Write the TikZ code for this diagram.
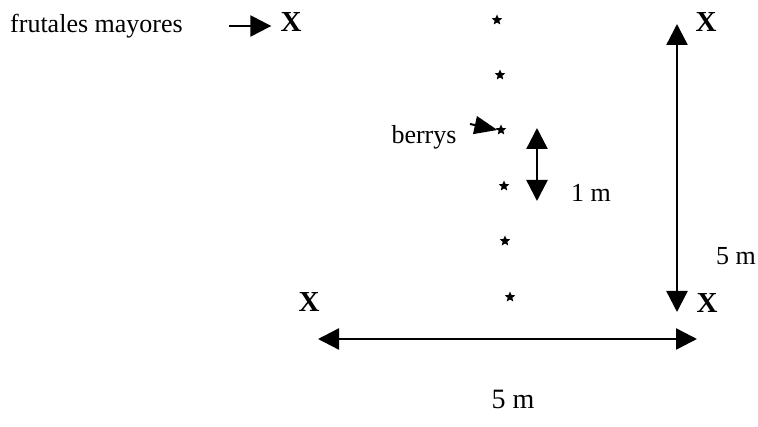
\documentclass[tikz,border=0pt]{standalone}
\usepackage{fontspec}
\setmainfont{Liberation Serif}
\usetikzlibrary{positioning, arrows.meta, shapes.geometric}

\begin{document}
\begin{tikzpicture}[
        x=1pt, y=-1pt,
        texto/.style={
            inner sep=0pt,
            font=\fontsize{26}{30}\selectfont
        },
        arbol/.style={
            inner sep=0pt,
            font=\bfseries\fontsize{29}{32}\selectfont
        },
        berry/.style={
            star,
            star points=5,
            star point ratio=2.2,
            fill=black,
            minimum size=11pt,
            inner sep=0pt
        },
        flecha/.style={
            -{Triangle[length=21pt, width=21pt]},
            line width=2.4pt
        },
        doble/.style={
            {Triangle[length=21pt, width=21pt]}-{Triangle[length=21pt, width=21pt]},
            line width=2.4pt
        }
    ]

    \useasboundingbox (0,0) rectangle (758,427);

    % frutales mayores
    \node[texto, anchor=west] (frutales) at (10,26) {frutales mayores};
    \node[arbol] (xtl) at (291,22) {X};
    \node[arbol] (xtr) at (706,22) {X};
    \node[arbol] (xbl) at (309,302) {X};
    \node[arbol] (xbr) at (707,303) {X};

    % berrys
    \node[berry] (b1) at (497,20) {};
    \node[berry] (b2) at (500,75) {};
    \node[berry] (b3) at (501,130) {};
    \node[berry] (b4) at (504,186) {};
    \node[berry] (b5) at (505,241) {};
    \node[berry] (b6) at (510,297) {};
    \node[texto] (berrys) at (424,137) {berrys};

    % medidas
    \coordinate (mtop) at (537,128);
    \coordinate (mbot) at (537,201);
    \node[texto] (unm) at (591,193) {1 m};
    \coordinate (vtop) at (677,24);
    \coordinate (vbot) at (677,312);
    \node[texto] (cincov) at (736,256) {5 m};
    \coordinate (hizq) at (318,339);
    \coordinate (hder) at (697,339);
    \node[texto, font=\fontsize{28}{32}\selectfont] (cincoh) at (513,399) {5 m};
    \coordinate (bflecha) at (470,124);

    \draw[flecha, shorten <=46pt, shorten >=9pt] (frutales.east) -- (frutales.east -| xtl.west);
    \draw[-{Triangle[length=23pt, width=18pt]}, line width=2pt] (bflecha) -- (b3.west);
    \draw[doble] (mtop) -- (mbot);
    \draw[doble] (vtop) -- (vbot);
    \draw[doble] (hizq) -- (hder);

\end{tikzpicture}
\end{document}
